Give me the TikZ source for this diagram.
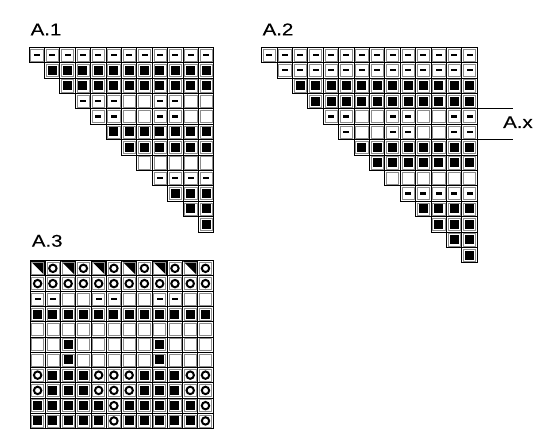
\documentclass[tikz,border=0pt]{standalone}
\usepackage{fontspec}
\setmainfont{Liberation Sans}
\newfontfamily\lblfont{Liberation Sans}[FakeBold=0.25]
\tikzset{
  cellline/.style={draw=black, line width=1pt},
  innerline/.style={draw=black!45, line width=0.5pt},
  lbl/.style={anchor=base west, inner sep=0pt, font=\lblfont\fontsize{17}{20}\selectfont},
  axline/.style={draw=black, line width=1pt},
}
\newcommand\kncell[1]{%
  \draw[innerline,shift={#1}] ({-\hh+1.6},{-\hh+1.6}) rectangle ({\hh-1.6},{\hh-1.6});
  \draw[cellline,shift={#1}] (-\hh,-\hh) rectangle (\hh,\hh);}
\newcommand\knb[1]{\fill[black,shift={#1}] (-4.5,-4.5) rectangle (4.5,4.5);\kncell{#1}}
\newcommand\knd[1]{\fill[black,shift={#1}] (-3,-1.1) rectangle (3,1.1);\kncell{#1}}
\newcommand\kne[1]{\kncell{#1}}
\newcommand\kno[1]{\draw[black,line width=2pt,shift={#1}] (0,0) circle[radius=3.7pt];\kncell{#1}}
\newcommand\knt[1]{\fill[black,shift={#1}] (-\hh,-\hh) -- (\hh,-\hh) -- (\hh,\hh) -- cycle;\kncell{#1}}
% #1 x0, #2 y0, #3 cell size, #4 row shift, #5 rows
\newcommand\knchart[5]{%
  \foreach \row [count=\r from 0] in {#5} {
    \foreach \s [count=\c from 0] in \row {
      \pgfmathsetmacro\xx{#1+(\c+\r*#4+0.5)*#3}
      \pgfmathsetmacro\yy{#2+(\r+0.5)*#3}
      \csname kn\s\endcsname{(\xx,\yy)}
    }
  }}
\newcommand\wide[1]{\scalebox{1.2}[1]{#1}}
\begin{document}
\begin{tikzpicture}[x=1pt,y=-1pt]
\useasboundingbox (0,0) rectangle (550,444);
\fill[white] (0,0) rectangle (550,444);
\def\hh{7.7}
% A.1
\node[lbl] (l1) at (30.5,35.3) {\wide{A.1}};
\knchart{29}{47.3}{15.4}{1}{
 {d,d,d,d,d,d,d,d,d,d,d,d},
 {b,b,b,b,b,b,b,b,b,b,b},
 {b,b,b,b,b,b,b,b,b,b},
 {d,d,d,e,e,d,d,e,e},
 {d,d,e,e,d,d,e,e},
 {b,b,b,b,b,b,b},
 {b,b,b,b,b,b},
 {e,e,e,e,e},
 {d,d,d,d},
 {b,b,b},
 {b,b},
 {b}}
% A.2
\node[lbl] (l2) at (262.5,35.3) {\wide{A.2}};
\knchart{261.7}{47.3}{15.4}{1}{
 {d,d,d,d,d,d,d,d,d,d,d,d,d,d},
 {d,d,d,d,d,d,d,d,d,d,d,d,d},
 {b,b,b,b,b,b,b,b,b,b,b,b},
 {b,b,b,b,b,b,b,b,b,b,b},
 {d,d,e,e,d,d,e,e,d,d},
 {d,e,e,d,d,e,e,d,d},
 {b,b,b,b,b,b,b,b},
 {b,b,b,b,b,b,b},
 {e,e,e,e,e,e},
 {d,d,d,d,d},
 {b,b,b,b},
 {b,b,b},
 {b,b},
 {b}}
\coordinate (x1a) at (477.3,108.9);
\coordinate (x1b) at (513,108.9);
\coordinate (x2a) at (477.3,139.7);
\coordinate (x2b) at (513,139.7);
\draw[axline] (x1a) -- (x1b);
\draw[axline] (x2a) -- (x2b);
\node[lbl] (lx) at (503,128) {\wide{A.x}};
% A.3
\def\hh{7.63}
\node[lbl] (l3) at (31.7,246.7) {\wide{A.3}};
\knchart{30}{260.7}{15.26}{0}{
 {t,o,t,o,t,o,t,o,t,o,t,o},
 {o,o,o,o,o,o,o,o,o,o,o,o},
 {d,d,e,e,d,d,e,e,d,d,e,e},
 {b,b,b,b,b,b,b,b,b,b,b,b},
 {e,e,e,e,e,e,e,e,e,e,e,e},
 {e,e,b,e,e,e,e,e,b,e,e,e},
 {e,e,b,e,e,e,e,e,b,e,e,e},
 {o,b,b,b,o,o,o,b,b,b,o,o},
 {o,b,b,b,o,o,o,b,b,b,o,o},
 {b,b,b,b,b,o,b,b,b,b,b,o},
 {b,b,b,b,b,o,b,b,b,b,b,o}}
\end{tikzpicture}
\end{document}
